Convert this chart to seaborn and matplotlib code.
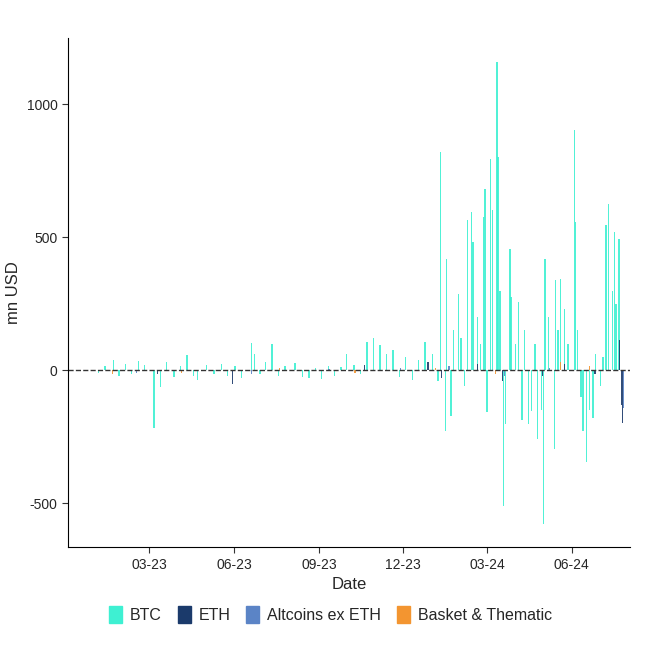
import matplotlib
matplotlib.use("Agg")
import matplotlib.pyplot as plt
import matplotlib.dates as mdates
import seaborn as sns
import pandas as pd
from matplotlib.patches import Patch

btc_dates = ["2023-01-05","2023-01-12","2023-01-21","2023-01-27","2023-02-03","2023-02-10","2023-02-17","2023-02-24",
             "2023-03-06","2023-03-13","2023-03-20","2023-03-28","2023-04-04","2023-04-11","2023-04-18","2023-04-22",
             "2023-05-02","2023-05-10","2023-05-18","2023-05-25","2023-06-02","2023-06-09","2023-06-20","2023-06-23",
             "2023-06-29","2023-07-05","2023-07-12","2023-07-19","2023-07-26","2023-08-06","2023-08-14","2023-08-21",
             "2023-08-28","2023-09-04","2023-09-11","2023-09-18","2023-09-25","2023-10-01","2023-10-09","2023-10-16",
             "2023-10-23","2023-10-30","2023-11-06","2023-11-13","2023-11-20","2023-11-27","2023-12-04","2023-12-11",
             "2023-12-18","2023-12-25","2024-01-02","2024-01-08","2024-01-11","2024-01-16","2024-01-17","2024-01-22",
             "2024-01-25","2024-01-30","2024-02-02","2024-02-06","2024-02-09","2024-02-13","2024-02-15","2024-02-20",
             "2024-02-23","2024-02-26","2024-02-28","2024-03-01","2024-03-05","2024-03-07","2024-03-12","2024-03-13",
             "2024-03-15","2024-03-19","2024-03-21","2024-03-26","2024-03-27","2024-04-01","2024-04-04","2024-04-08",
             "2024-04-11","2024-04-15","2024-04-18","2024-04-22","2024-04-25","2024-04-29","2024-05-01","2024-05-03",
             "2024-05-07","2024-05-13","2024-05-14","2024-05-17","2024-05-20","2024-05-24","2024-05-28","2024-06-04",
             "2024-06-05","2024-06-07","2024-06-11","2024-06-13","2024-06-17","2024-06-20","2024-06-24","2024-06-27",
             "2024-07-02","2024-07-05","2024-07-08","2024-07-11","2024-07-15","2024-07-17","2024-07-19","2024-07-22"]
btc_vals = [-10, 15, 40, -20, 25, -15, 35, 20,
            -218, -63, 30, -25, 15, 56, -20, -38,
            20, -15, 25, -20, 18, -30, 103, 60,
            -15, 30, 98, -20, 15, 27, -25, -30,
            10, -31, 15, -20, 12, 63, 20, -15,
            106, 123, 94, 60, 75, -25, 50, -38,
            40, 106, 60, -40, 820, -226, 420, -170,
            150, 288, 120, -60, 564, 595, 482, 200,
            100, 576, 683, -155, 796, 601, 1159, 802,
            300, -508, -200, 457, 276, 100, 257, -188,
            150, -200, -153, 100, -258, -150, -576, 420,
            200, -294, 338, 150, 342, 232, 100, 902,
            558, 150, -100, -226, -345, -150, -180, 60,
            -60, 50, 545, 627, 300, 520, 250, 495]

eth_dates = ["2023-03-10","2023-05-30","2023-10-20","2023-12-28","2024-01-12","2024-02-20","2024-03-18","2024-04-30",
             "2024-05-24","2024-06-26","2024-07-23","2024-07-25","2024-07-26"]
eth_vals = [-15, -50, 20, 30, -30, 25, -40, -20, 25, -15, 113, -130, -196]

alt_dates = ["2023-02-15","2023-06-20","2023-09-12","2023-11-28","2024-01-20","2024-03-20","2024-05-08","2024-07-27"]
alt_vals = [-8, -12, 6, 10, 15, -20, 10, -140]

basket_dates = ["2023-01-20","2023-04-05","2023-07-20","2023-10-10","2024-01-05","2024-03-10","2024-05-20","2024-06-20"]
basket_vals = [-12, -10, 8, -8, 10, -12, 30, 15]

sns.set_style("white")
plt.rcParams["font.family"] = "Liberation Sans"
plt.rcParams["axes.unicode_minus"] = False
fig = plt.figure(figsize=(6.61, 6.61), dpi=100)
ax = fig.add_axes([0.103, 0.172, 0.85, 0.77])

series = [("BTC", btc_dates, btc_vals, "#3EF0D2"),
          ("ETH", eth_dates, eth_vals, "#1B3A6B"),
          ("Altcoins ex ETH", alt_dates, alt_vals, "#5B84C6"),
          ("Basket & Thematic", basket_dates, basket_vals, "#F39530")]
for name, d, v, c in series:
    df = pd.DataFrame({"date": pd.to_datetime(d), "val": v})
    ax.bar(df["date"], df["val"], width=1.5, color=c, alpha=0.9, linewidth=0)

ax.axhline(0, color="#333333", linestyle="--", linewidth=1)
ax.set_xlim(pd.Timestamp("2022-12-03"), pd.Timestamp("2024-08-03"))
ax.set_ylim(-665, 1248)
ax.set_yticks([-500, 0, 500, 1000])
ax.xaxis.set_major_locator(mdates.MonthLocator(bymonth=[3, 6, 9, 12]))
ax.xaxis.set_major_formatter(mdates.DateFormatter("%m-%y"))
ax.tick_params(axis="both", labelsize=10, length=4, color="#333333", direction="out", bottom=True, left=True)
ax.set_xlabel("Date", fontsize=12)
ax.set_ylabel("mn USD", fontsize=12)
sns.despine(ax=ax)
for s in ["left", "bottom"]:
    ax.spines[s].set_color("black")

handles = [Patch(color=c, label=n) for n, _, _, c in series]
fig.legend(handles=handles, loc="center", bbox_to_anchor=(0.5, 0.07), ncol=4, frameon=False,
           fontsize=11.5, handlelength=0.8, handleheight=1.2, handletextpad=0.5, columnspacing=1.0)
fig.savefig("out.png", dpi=100, facecolor="white")
